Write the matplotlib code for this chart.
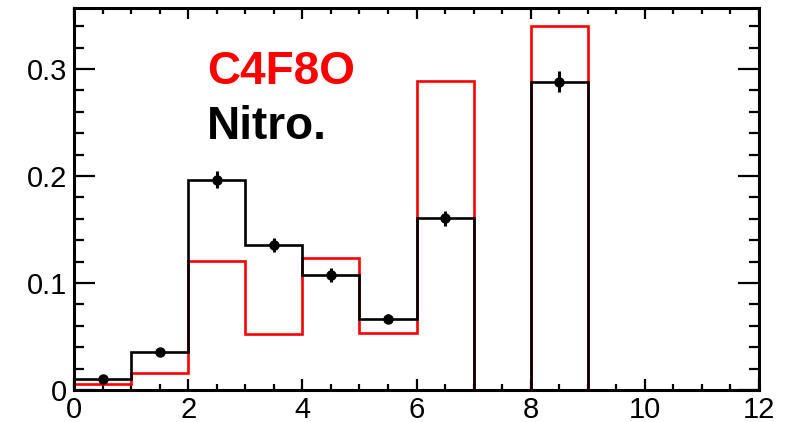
import numpy as np
import matplotlib.pyplot as plt
from matplotlib.ticker import MultipleLocator

plt.rcParams['font.family'] = ['Liberation Sans', 'DejaVu Sans']

# bin edges 0..12, width 1
edges = np.arange(0, 13)
nitro = [0.0100, 0.0355, 0.1966, 0.1358, 0.1075, 0.0667, 0.1604, 0.0, 0.2879, 0.0, 0.0, 0.0]
nitro_err = [0.002, 0.003, 0.008, 0.0064, 0.0062, 0.004, 0.007, 0.0, 0.0098, 0.0, 0.0, 0.0]
c4f8o = [0.0053, 0.0156, 0.1203, 0.0523, 0.1234, 0.0536, 0.2890, 0.0, 0.3400, 0.0, 0.0, 0.0]


def hist_outline(edges, vals):
    # plain step outline, closed to zero at both ends
    xs = [edges[0]]
    ys = [0.0]
    for i, v in enumerate(vals):
        xs += [edges[i], edges[i + 1]]
        ys += [v, v]
    xs.append(edges[-1])
    ys.append(0.0)
    return xs, ys


fig = plt.figure(figsize=(7.95, 4.22), dpi=100)
ax = fig.add_axes([0.0931, 0.0758, 0.8616, 0.9052])

xr, yr = hist_outline(edges, c4f8o)
ax.plot(xr, yr, color='#ff0000', lw=1.9, solid_joinstyle='miter', clip_on=False, zorder=2)
xb, yb = hist_outline(edges, nitro)
ax.plot(xb, yb, color='black', lw=1.9, solid_joinstyle='miter', clip_on=False, zorder=3)

centers = (edges[:-1] + edges[1:]) / 2
nz = np.array(nitro) > 0
ax.errorbar(centers[nz], np.array(nitro)[nz], yerr=np.array(nitro_err)[nz],
            fmt='o', color='black', ms=6.5, elinewidth=2.2, capsize=0, zorder=4)

ax.set_xlim(0, 12)
ax.set_ylim(0, 0.357)
ax.xaxis.set_major_locator(MultipleLocator(2))
ax.xaxis.set_minor_locator(MultipleLocator(0.5))
ax.yaxis.set_minor_locator(MultipleLocator(0.02))
ax.set_yticks([0, 0.1, 0.2, 0.3])
ax.set_yticklabels(['0', '0.1', '0.2', '0.3'])

ax.tick_params(axis='both', which='both', direction='in', top=True, right=True,
               labelsize=21, width=1.6)
ax.tick_params(axis='x', which='major', length=8, pad=4)
ax.tick_params(axis='x', which='minor', length=4.5)
ax.tick_params(axis='y', which='major', length=15, pad=5)
ax.tick_params(axis='y', which='minor', length=7.5)
for s in ax.spines.values():
    s.set_linewidth(2.2)

fig.text(0.26, 0.801, 'C4F8O', color='#ff0000', fontsize=33, fontweight='bold', va='baseline')
fig.text(0.26, 0.6706, 'Nitro.', color='black', fontsize=33, fontweight='bold', va='baseline')

fig.savefig('out.png', dpi=100)
